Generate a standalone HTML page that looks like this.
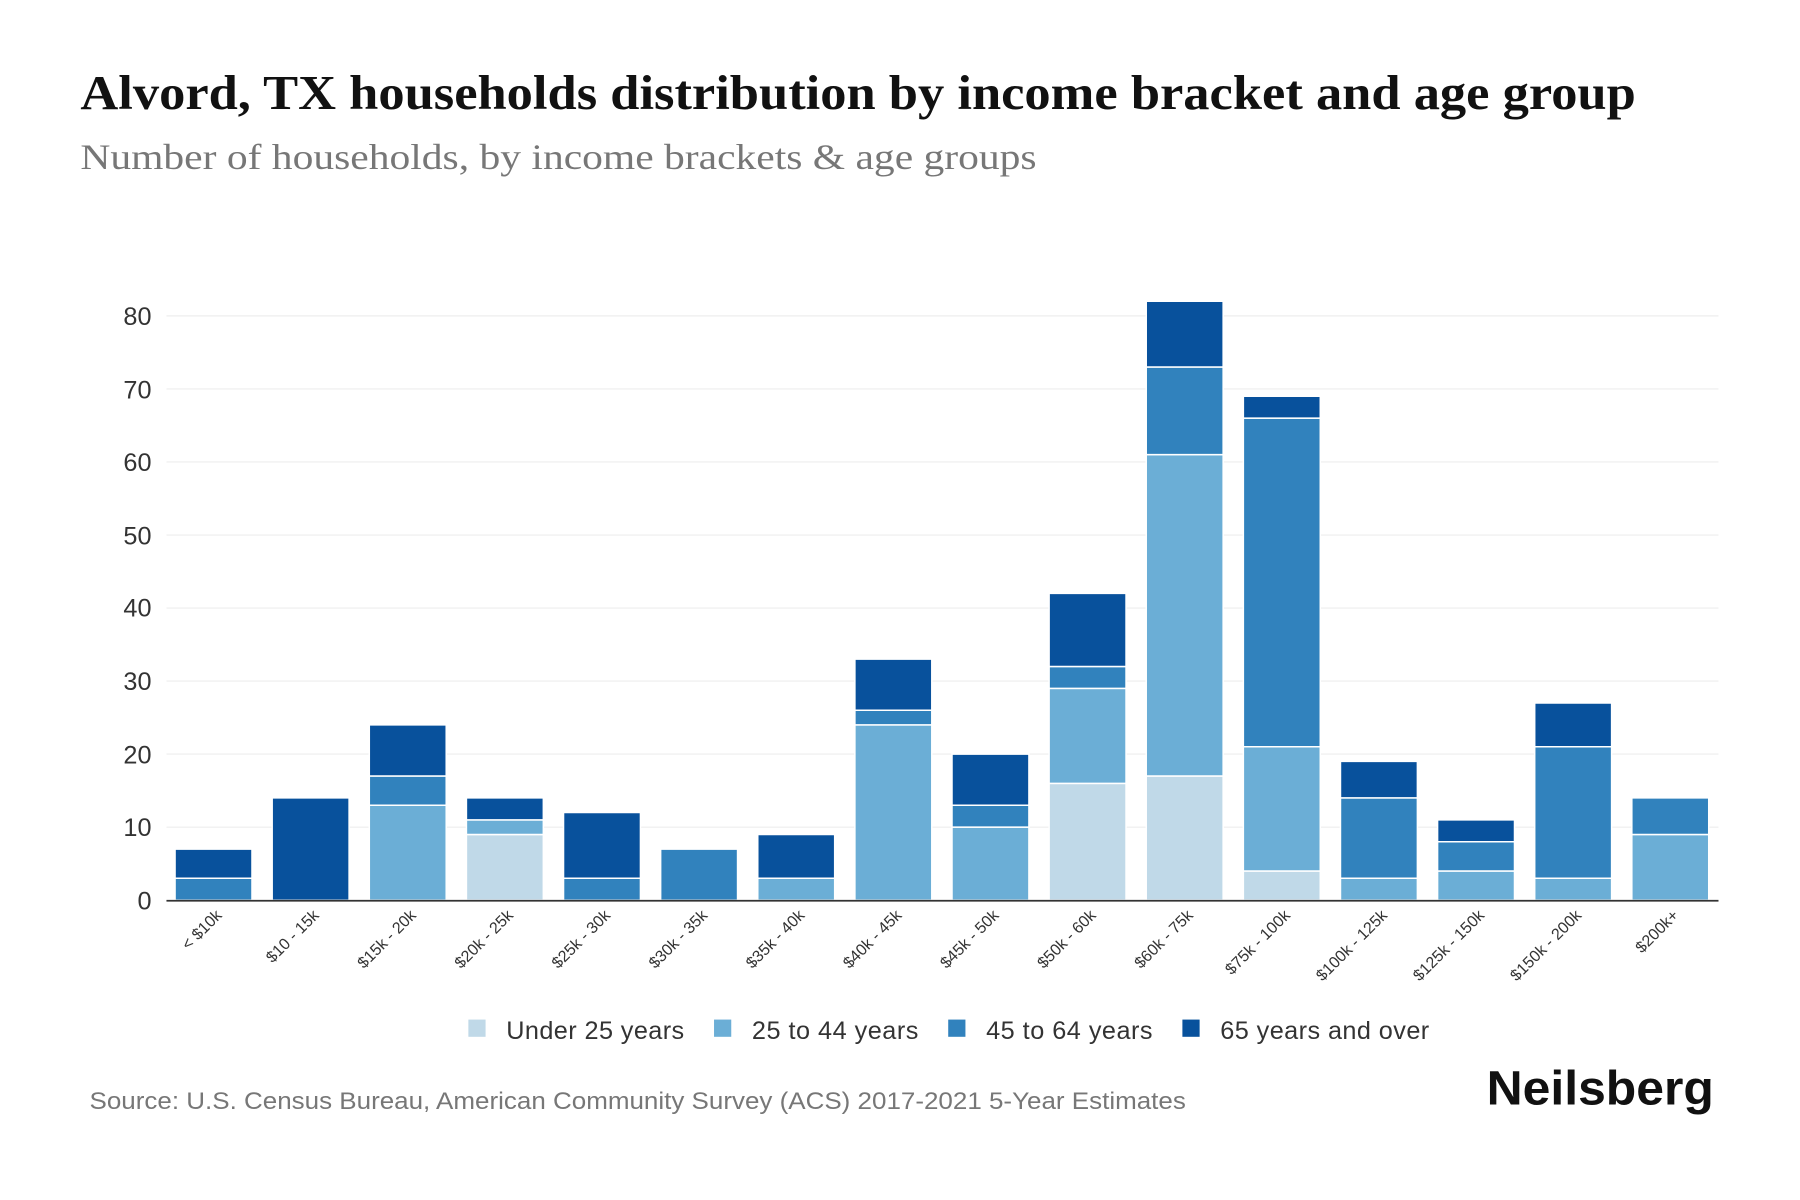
<!DOCTYPE html>
<html><head><meta charset="utf-8"><style>html,body{margin:0;padding:0;background:#fff;}svg{display:block}</style></head>
<body>
<svg width="1800" height="1200" viewBox="0 0 1568 1045" xmlns="http://www.w3.org/2000/svg">
<rect width="1568" height="1045" fill="#fff"/>
<text x="70" y="95" font-family="Liberation Serif, serif" font-weight="bold" font-size="42" fill="#111" textLength="1355" lengthAdjust="spacingAndGlyphs">Alvord, TX households distribution by income bracket and age group</text>
<text x="70" y="147" font-family="Liberation Serif, serif" font-size="31" fill="#777" textLength="833" lengthAdjust="spacingAndGlyphs">Number of households, by income brackets &amp; age groups</text>
<g stroke="#eee" stroke-width="1">
<line x1="145" x2="1497" y1="720.4" y2="720.4"/><line x1="145" x2="1497" y1="656.7" y2="656.7"/><line x1="145" x2="1497" y1="593.1" y2="593.1"/><line x1="145" x2="1497" y1="529.5" y2="529.5"/><line x1="145" x2="1497" y1="465.9" y2="465.9"/><line x1="145" x2="1497" y1="402.2" y2="402.2"/><line x1="145" x2="1497" y1="338.6" y2="338.6"/><line x1="145" x2="1497" y1="275" y2="275"/>
</g>
<g font-family="Liberation Sans, sans-serif" font-size="22" fill="#333" text-anchor="end">
<text x="132" y="792">0</text><text x="132" y="728">10</text><text x="132" y="665">20</text><text x="132" y="601">30</text><text x="132" y="537">40</text><text x="132" y="474">50</text><text x="132" y="410">60</text><text x="132" y="347">70</text><text x="132" y="283">80</text>
</g>
<g transform="translate(0,784) scale(1,-6.3625)" stroke="#fff" stroke-width="1.5">
<rect x="152.5" y="0" width="67" height="3" fill="#3182bd" vector-effect="non-scaling-stroke"/><rect x="152.5" y="3" width="67" height="4" fill="#08519c" vector-effect="non-scaling-stroke"/>
<rect x="237.1" y="0" width="67" height="14" fill="#08519c" vector-effect="non-scaling-stroke"/>
<rect x="321.7" y="0" width="67" height="13" fill="#6baed6" vector-effect="non-scaling-stroke"/><rect x="321.7" y="13" width="67" height="4" fill="#3182bd" vector-effect="non-scaling-stroke"/><rect x="321.7" y="17" width="67" height="7" fill="#08519c" vector-effect="non-scaling-stroke"/>
<rect x="406.3" y="0" width="67" height="9" fill="#c0d9e8" vector-effect="non-scaling-stroke"/><rect x="406.3" y="9" width="67" height="2" fill="#6baed6" vector-effect="non-scaling-stroke"/><rect x="406.3" y="11" width="67" height="3" fill="#08519c" vector-effect="non-scaling-stroke"/>
<rect x="490.9" y="0" width="67" height="3" fill="#3182bd" vector-effect="non-scaling-stroke"/><rect x="490.9" y="3" width="67" height="9" fill="#08519c" vector-effect="non-scaling-stroke"/>
<rect x="575.5" y="0" width="67" height="7" fill="#3182bd" vector-effect="non-scaling-stroke"/>
<rect x="660.1" y="0" width="67" height="3" fill="#6baed6" vector-effect="non-scaling-stroke"/><rect x="660.1" y="3" width="67" height="6" fill="#08519c" vector-effect="non-scaling-stroke"/>
<rect x="744.7" y="0" width="67" height="24" fill="#6baed6" vector-effect="non-scaling-stroke"/><rect x="744.7" y="24" width="67" height="2" fill="#3182bd" vector-effect="non-scaling-stroke"/><rect x="744.7" y="26" width="67" height="7" fill="#08519c" vector-effect="non-scaling-stroke"/>
<rect x="829.3" y="0" width="67" height="10" fill="#6baed6" vector-effect="non-scaling-stroke"/><rect x="829.3" y="10" width="67" height="3" fill="#3182bd" vector-effect="non-scaling-stroke"/><rect x="829.3" y="13" width="67" height="7" fill="#08519c" vector-effect="non-scaling-stroke"/>
<rect x="913.9" y="0" width="67" height="16" fill="#c0d9e8" vector-effect="non-scaling-stroke"/><rect x="913.9" y="16" width="67" height="13" fill="#6baed6" vector-effect="non-scaling-stroke"/><rect x="913.9" y="29" width="67" height="3" fill="#3182bd" vector-effect="non-scaling-stroke"/><rect x="913.9" y="32" width="67" height="10" fill="#08519c" vector-effect="non-scaling-stroke"/>
<rect x="998.5" y="0" width="67" height="17" fill="#c0d9e8" vector-effect="non-scaling-stroke"/><rect x="998.5" y="17" width="67" height="44" fill="#6baed6" vector-effect="non-scaling-stroke"/><rect x="998.5" y="61" width="67" height="12" fill="#3182bd" vector-effect="non-scaling-stroke"/><rect x="998.5" y="73" width="67" height="9" fill="#08519c" vector-effect="non-scaling-stroke"/>
<rect x="1083.1" y="0" width="67" height="4" fill="#c0d9e8" vector-effect="non-scaling-stroke"/><rect x="1083.1" y="4" width="67" height="17" fill="#6baed6" vector-effect="non-scaling-stroke"/><rect x="1083.1" y="21" width="67" height="45" fill="#3182bd" vector-effect="non-scaling-stroke"/><rect x="1083.1" y="66" width="67" height="3" fill="#08519c" vector-effect="non-scaling-stroke"/>
<rect x="1167.7" y="0" width="67" height="3" fill="#6baed6" vector-effect="non-scaling-stroke"/><rect x="1167.7" y="3" width="67" height="11" fill="#3182bd" vector-effect="non-scaling-stroke"/><rect x="1167.7" y="14" width="67" height="5" fill="#08519c" vector-effect="non-scaling-stroke"/>
<rect x="1252.3" y="0" width="67" height="4" fill="#6baed6" vector-effect="non-scaling-stroke"/><rect x="1252.3" y="4" width="67" height="4" fill="#3182bd" vector-effect="non-scaling-stroke"/><rect x="1252.3" y="8" width="67" height="3" fill="#08519c" vector-effect="non-scaling-stroke"/>
<rect x="1336.9" y="0" width="67" height="3" fill="#6baed6" vector-effect="non-scaling-stroke"/><rect x="1336.9" y="3" width="67" height="18" fill="#3182bd" vector-effect="non-scaling-stroke"/><rect x="1336.9" y="21" width="67" height="6" fill="#08519c" vector-effect="non-scaling-stroke"/>
<rect x="1421.5" y="0" width="67" height="9" fill="#6baed6" vector-effect="non-scaling-stroke"/><rect x="1421.5" y="9" width="67" height="5" fill="#3182bd" vector-effect="non-scaling-stroke"/>
</g>
<line x1="145" x2="1497" y1="784.5" y2="784.5" stroke="#333" stroke-width="1.5"/>
<g font-family="Liberation Sans, sans-serif" font-size="14" fill="#333" text-anchor="end">
<text transform="translate(194,798) rotate(-45)">&lt; $10k</text>
<text transform="translate(278.6,798) rotate(-45)">$10 - 15k</text>
<text transform="translate(363.2,798) rotate(-45)">$15k - 20k</text>
<text transform="translate(447.8,798) rotate(-45)">$20k - 25k</text>
<text transform="translate(532.4,798) rotate(-45)">$25k - 30k</text>
<text transform="translate(617,798) rotate(-45)">$30k - 35k</text>
<text transform="translate(701.6,798) rotate(-45)">$35k - 40k</text>
<text transform="translate(786.2,798) rotate(-45)">$40k - 45k</text>
<text transform="translate(870.8,798) rotate(-45)">$45k - 50k</text>
<text transform="translate(955.4,798) rotate(-45)">$50k - 60k</text>
<text transform="translate(1040,798) rotate(-45)">$60k - 75k</text>
<text transform="translate(1124.6,798) rotate(-45)">$75k - 100k</text>
<text transform="translate(1209.2,798) rotate(-45)">$100k - 125k</text>
<text transform="translate(1293.8,798) rotate(-45)">$125k - 150k</text>
<text transform="translate(1378.4,798) rotate(-45)">$150k - 200k</text>
<text transform="translate(1463,798) rotate(-45)">$200k+</text>
</g>
<g font-family="Liberation Sans, sans-serif" font-size="22" fill="#333">
<rect x="408" y="888" width="15" height="15" fill="#c0d9e8"/><text x="441" y="905" textLength="155">Under 25 years</text>
<rect x="622" y="888" width="15" height="15" fill="#6baed6"/><text x="655" y="905" textLength="145">25 to 44 years</text>
<rect x="826" y="888" width="15" height="15" fill="#3182bd"/><text x="859" y="905" textLength="145">45 to 64 years</text>
<rect x="1030" y="888" width="15" height="15" fill="#08519c"/><text x="1063" y="905" textLength="182">65 years and over</text>
</g>
<text x="78" y="966" font-family="Liberation Sans, sans-serif" font-size="21" fill="#777" textLength="955" lengthAdjust="spacingAndGlyphs">Source: U.S. Census Bureau, American Community Survey (ACS) 2017-2021 5-Year Estimates</text>
<text x="1295" y="962" font-family="Liberation Sans, sans-serif" font-weight="bold" font-size="42" fill="#111" textLength="198" lengthAdjust="spacingAndGlyphs">Neilsberg</text>
</svg>
</body></html>
